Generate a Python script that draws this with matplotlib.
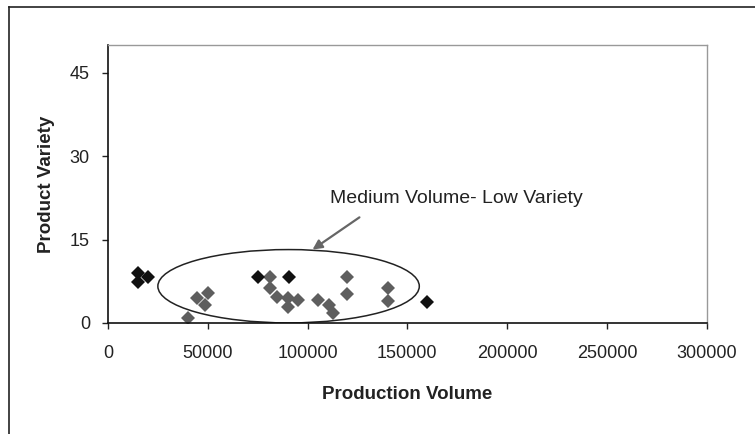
import matplotlib.pyplot as plt
from matplotlib.patches import Ellipse
from matplotlib.lines import Line2D

plt.rcParams['font.family'] = ['Liberation Sans', 'DejaVu Sans']

# Black points (outside the highlighted group)
black_x = [15000, 15000, 20000, 75000, 90500, 160000]
black_y = [9.0, 7.4, 8.3, 8.3, 8.3, 3.8]

# Gray points (medium volume - low variety group)
gray_x = [40000, 44500, 48500, 50000, 81000, 81000, 84500, 90000, 90000,
          95000, 105000, 111000, 113000, 120000, 120000, 140500, 140500]
gray_y = [0.9, 4.5, 3.3, 5.4, 8.3, 6.3, 4.7, 4.5, 2.9,
          4.2, 4.2, 3.3, 1.8, 8.3, 5.2, 6.3, 4.0]

x_ticks = [0, 50000, 100000, 150000, 200000, 250000, 300000]
y_ticks = [0, 15, 30, 45]

fig = plt.figure(figsize=(7.55, 4.34), dpi=100)
ax = fig.add_axes([0.143, 0.256, 0.793, 0.640])

ax.plot(gray_x, gray_y, linestyle='none', marker='D', markersize=7.5,
        color='#5e5e5e', markeredgewidth=0)
ax.plot(black_x, black_y, linestyle='none', marker='D', markersize=7.5,
        color='#111111', markeredgewidth=0)

# highlight ellipse
ell = Ellipse((90500, 6.6), 131000, 13.2, fill=False, edgecolor='#222222', lw=1.1)
ax.add_patch(ell)

ax.text(111500, 22.4, 'Medium Volume- Low Variety', fontsize=14, color='#222222',
        va='center', ha='left')
ax.annotate('', xy=(102500, 13.2), xytext=(126000, 19.0),
            arrowprops=dict(arrowstyle='-|>', color='#666666', lw=1.6,
                            shrinkA=0, shrinkB=0, mutation_scale=14))

ax.set_xlim(0, 300000)
ax.set_ylim(0, 50)
ax.set_xticks(x_ticks)
ax.set_yticks(y_ticks)
ax.tick_params(direction='out', length=4, width=1, labelsize=13, colors='#222222')
ax.tick_params(axis='x', pad=12)
ax.tick_params(axis='y', pad=9)

for s in ['left', 'bottom']:
    ax.spines[s].set_color('#111111')
    ax.spines[s].set_linewidth(1.2)
for s in ['top', 'right']:
    ax.spines[s].set_color('#999999')
    ax.spines[s].set_linewidth(1)

ax.set_xlabel('Production Volume', fontsize=13.5, fontweight='bold', color='#222222', labelpad=17)
ax.set_ylabel('Product Variety', fontsize=13.5, fontweight='bold', color='#222222', labelpad=11)

# outer frame of the scanned chart
fig.add_artist(Line2D([9 / 755, 1], [1 - 7 / 434, 1 - 7 / 434], transform=fig.transFigure,
                      color='#222222', lw=1.2))
fig.add_artist(Line2D([9 / 755, 9 / 755], [0, 1 - 7 / 434], transform=fig.transFigure,
                      color='#222222', lw=1.2))

fig.savefig('out.png', dpi=100)
